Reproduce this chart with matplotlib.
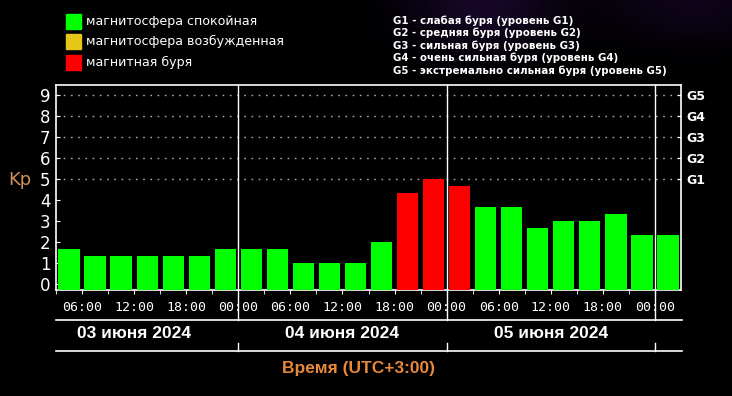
import numpy as np
import matplotlib
matplotlib.use('Agg')
import matplotlib.pyplot as plt
import matplotlib.transforms as mtransforms
from matplotlib.patches import Rectangle

# Данные: индекс Kp по 3-часовым интервалам (часы от 00:00 03.06.2024)
start_hours = list(range(3, 75, 3))
kp_values = [1.67, 1.33, 1.33, 1.33, 1.33, 1.33, 1.67,
             1.67, 1.67, 1.0, 1.0, 1.0, 2.0, 4.33, 5.0,
             4.67, 3.67, 3.67, 2.67, 3.0, 3.0, 3.33, 2.33,
             2.33]
time_ticks = list(range(6, 73, 6))
time_labels = ['06:00', '12:00', '18:00', '00:00'] * 3
day_bounds = [24, 48, 72]
day_centers = [12, 36, 60]
day_labels = ['03 июня 2024', '04 июня 2024', '05 июня 2024']
g_levels = [5, 6, 7, 8, 9]
g_labels = ['G1', 'G2', 'G3', 'G4', 'G5']
legend_labels = ['магнитосфера спокойная', 'магнитосфера возбужденная', 'магнитная буря']
legend_colors = ['#00ff00', '#e6c619', '#ff0000']
g_legend = ['G1 - слабая буря (уровень G1)',
            'G2 - средняя буря (уровень G2)',
            'G3 - сильная буря (уровень G3)',
            'G4 - очень сильная буря (уровень G4)',
            'G5 - экстремально сильная буря (уровень G5)']

label_font = ['Liberation Sans', 'DejaVu Sans']

def bar_color(v):
    if v > 4:
        return legend_colors[2]
    if v == 4:
        return legend_colors[1]
    return legend_colors[0]

fig = plt.figure(figsize=(7.32, 3.96), dpi=100, facecolor='black')

# лёгкое фиолетовое свечение сверху
bg = fig.add_axes([0, 0, 1, 1], zorder=-10)
gx, gy = np.meshgrid(np.linspace(0, 1, 300), np.linspace(0, 1, 160))
glow = 0.35 * np.exp(-(((gx - 0.66) / 0.10) ** 2 + ((gy - 1.0) / 0.12) ** 2)) \
     + 0.22 * np.exp(-(((gx - 0.95) / 0.12) ** 2 + ((gy - 1.0) / 0.10) ** 2))
img = np.zeros(gx.shape + (3,))
img[..., 0] = 0.25 * glow
img[..., 1] = 0.08 * glow
img[..., 2] = 0.45 * glow
bg.imshow(img, extent=[0, 1, 0, 1], origin='lower', aspect='auto')
bg.axis('off')

ax = fig.add_axes([56 / 732, 106 / 396, 625 / 732, 205 / 396], facecolor='black')
ymin, ymax = -0.29, 9.48
ax.set_xlim(3, 75)
ax.set_ylim(ymin, ymax)

centers = [h + 1.5 for h in start_hours]
colors = [bar_color(v) for v in kp_values]
ax.bar(centers, [v - ymin for v in kp_values], bottom=ymin, width=2.45,
       color=colors, zorder=3)

# пунктирная сетка на уровнях G
for lv in g_levels:
    ax.axhline(lv, color='#aaaaaa', lw=1.0, ls=(0, (1.2, 4)), zorder=1)

trans = mtransforms.blended_transform_factory(ax.transData, ax.transAxes)
for d in day_bounds:
    ax.plot([d, d], [-0.146, 1], color='white', lw=1, transform=trans,
            clip_on=False, zorder=4)
    ax.plot([d, d], [-0.298, -0.259], color='white', lw=1, transform=trans,
            clip_on=False)
ax.plot([3, 75.1], [-0.146, -0.146], color='white', lw=1.2, transform=trans, clip_on=False)
ax.plot([3, 75.1], [-0.298, -0.298], color='white', lw=1.2, transform=trans, clip_on=False)

for sp in ax.spines.values():
    sp.set_color('white')
    sp.set_linewidth(1.2)

ax.set_xticks(time_ticks)
ax.set_xticklabels(time_labels, family='DejaVu Sans Mono', fontsize=9.5, color='white')
ax.set_xticks(start_hours, minor=True)
ax.tick_params(axis='x', which='both', direction='out', length=3, color='white', pad=5)

ax.set_yticks(range(10))
ax.set_yticklabels([str(i) for i in range(10)], fontsize=12, color='white')
ax.tick_params(axis='y', direction='in', length=3, color='white', pad=4,
               right=True)

ax2 = ax.twinx()
ax2.set_ylim(ymin, ymax)
ax2.set_yticks(g_levels)
ax2.set_yticklabels(g_labels, fontsize=9, fontweight='bold', color='white')
ax2.tick_params(axis='y', direction='in', length=3, color='white', pad=4)
for sp in ax2.spines.values():
    sp.set_visible(False)

for c, lab in zip(day_centers, day_labels):
    ax.text(c, -0.212, lab, transform=trans, ha='center', va='center',
            color='white', fontsize=12.5, fontweight='bold', family=label_font)

fig.text(359 / 732, 1 - 369 / 396, 'Время (UTC+3:00)', ha='center', va='center',
         color='#e8893a', fontsize=12.5, fontweight='bold', family=label_font)
fig.text(20 / 732, 1 - 180 / 396, 'Kp', ha='center', va='center',
         color='#d0905a', fontsize=13)

# легенда состояний
for i, (lab, col) in enumerate(zip(legend_labels, legend_colors)):
    yc = 21 + 20.5 * i
    fig.patches.append(Rectangle((66 / 732, 1 - (yc + 7.5) / 396), 15 / 732, 15 / 396,
                                 transform=fig.transFigure, color=col))
    fig.text(86 / 732, 1 - yc / 396, lab, ha='left', va='center',
             color='white', fontsize=9.1)

for i, lab in enumerate(g_legend):
    yc = 20.7 + 12.5 * i
    fig.text(393 / 732, 1 - yc / 396, lab, ha='left', va='center',
             color='white', fontsize=7.4, fontweight='bold')

fig.savefig('out.png', dpi=100, facecolor='black')
